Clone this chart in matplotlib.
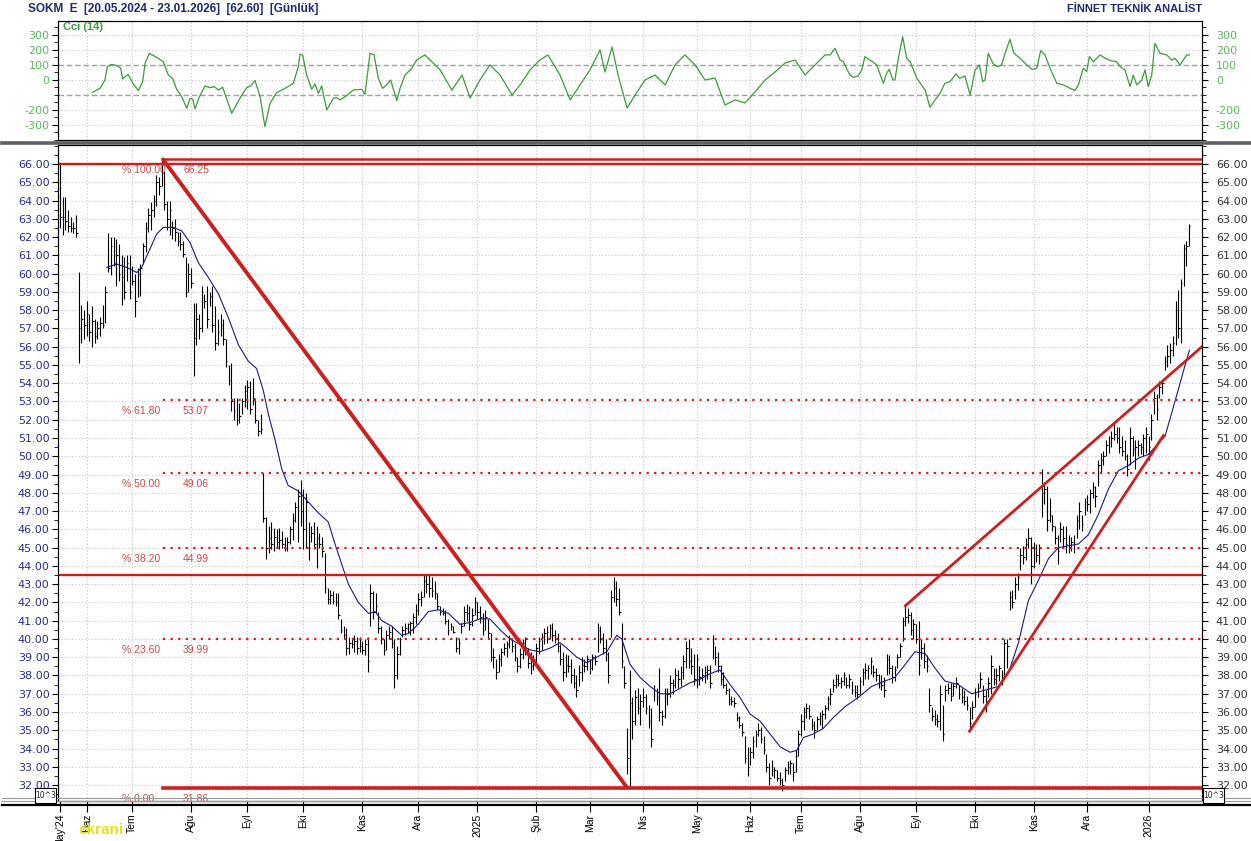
import numpy as np
import matplotlib.pyplot as plt
from matplotlib.lines import Line2D
from matplotlib.patches import Rectangle

plt.rcParams['font.family'] = ['DejaVu Sans']

# ---- günlük bar verileri (bar index 0 = 20.05.2024) ----
highs = [
    66.0, 64.2, 64.2, 63.5, 63.1, 62.8, 63.2, 60.1, 58.3, 58.0,
    58.5, 57.8, 58.2, 57.5, 57.4, 57.6, 58.3, 59.3, 62.2, 62.0,
    62.0, 61.9, 61.6, 61.0, 60.9, 61.0, 61.0, 60.4, 60.0, 60.3,
    60.5, 61.7, 62.8, 63.6, 63.9, 64.3, 65.4, 65.3, 66.3, 65.6,
    64.0, 64.0, 62.9, 63.0, 62.3, 62.3, 61.8, 60.9, 60.6, 60.3,
    58.4, 58.4, 57.8, 59.3, 58.9, 59.3, 59.0, 59.3, 58.2, 57.5,
    57.8, 57.5, 56.4, 55.0, 55.1, 53.2, 53.2, 52.9, 53.2, 53.9,
    54.2, 54.1, 54.3, 53.2, 52.0, 52.3, 49.1, 46.7, 46.2, 46.4,
    46.1, 46.0, 46.1, 45.9, 45.6, 45.6, 46.2, 46.9, 47.5, 48.2,
    48.7, 48.2, 48.0, 46.4, 46.2, 46.4, 46.2, 45.8, 45.6, 44.7,
    42.8, 42.7, 42.6, 42.5, 42.5, 41.1, 40.7, 40.6, 40.1, 40.0,
    40.2, 40.1, 40.1, 39.9, 40.0, 40.1, 43.0, 42.6, 42.5, 41.5,
    40.7, 40.0, 40.5, 40.7, 40.7, 40.0, 39.6, 40.1, 40.7, 40.9,
    40.9, 41.0, 41.4, 41.9, 42.5, 42.6, 43.5, 43.5, 43.5, 43.4,
    43.2, 42.5, 41.8, 41.7, 41.6, 41.1, 40.9, 40.7, 40.1, 40.0,
    40.9, 41.8, 41.9, 41.8, 41.7, 42.3, 42.0, 41.8, 41.4, 41.6,
    41.1, 40.3, 39.5, 38.9, 39.2, 39.5, 39.8, 39.9, 40.2, 40.0,
    39.8, 39.0, 39.5, 40.0, 40.1, 39.5, 39.3, 39.1, 39.8, 40.1,
    40.3, 40.6, 40.7, 40.8, 40.9, 40.5, 40.3, 39.7, 39.3, 39.2,
    39.1, 38.9, 38.4, 38.0, 38.6, 39.0, 38.9, 39.1, 38.9, 39.2,
    39.1, 40.9, 40.7, 40.3, 40.0, 39.3, 42.7, 43.4, 43.2, 42.8,
    40.9, 38.5, 35.1, 38.3, 36.8, 37.2, 37.3, 37.0, 37.3, 37.0,
    36.4, 36.2, 37.5, 37.3, 38.4, 36.1, 37.3, 37.3, 38.0, 37.8,
    38.4, 38.3, 38.5, 39.1, 39.9, 40.0, 39.5, 39.2, 39.2, 38.5,
    38.4, 38.5, 38.6, 38.6, 40.2, 39.6, 39.3, 38.6, 38.2, 37.6,
    37.3, 36.9, 36.8, 36.0, 35.8, 35.4, 34.7, 34.1, 34.1, 34.7,
    35.0, 35.4, 35.2, 34.7, 33.7, 33.2, 33.4, 33.0, 32.8, 32.7,
    32.4, 33.0, 33.3, 33.4, 33.2, 33.9, 35.0, 35.9, 36.3, 36.5,
    36.4, 35.7, 35.5, 35.8, 36.0, 36.1, 36.4, 36.9, 37.3, 37.8,
    38.1, 38.1, 37.9, 38.2, 37.9, 38.1, 37.7, 37.5, 37.5, 37.9,
    38.4, 38.7, 38.6, 39.0, 38.6, 38.4, 38.1, 38.0, 37.9, 39.2,
    39.1, 38.6, 38.5, 39.2, 39.8, 41.2, 41.8, 41.7, 41.5, 41.1,
    40.8, 41.0, 40.0, 39.8, 39.1, 37.3, 36.3, 36.1, 35.9, 37.5,
    36.4, 37.5, 37.6, 37.6, 37.6, 37.9, 37.5, 37.3, 37.2, 36.9,
    36.3, 36.6, 37.3, 37.6, 38.2, 37.5, 37.2, 37.9, 39.1, 38.4,
    38.4, 38.6, 38.3, 40.0, 40.0, 42.6, 42.7, 43.4, 43.6, 45.0,
    45.1, 45.5, 46.1, 45.6, 45.3, 45.2, 45.2, 49.3, 48.6, 48.4,
    47.7, 46.8, 46.2, 45.7, 46.4, 46.2, 46.2, 45.7, 45.6, 45.7,
    46.8, 47.5, 46.8, 47.7, 47.9, 48.2, 48.6, 48.4, 49.8, 50.2,
    50.3, 50.9, 51.1, 51.4, 51.8, 51.6, 51.6, 51.1, 50.9, 50.1,
    51.6, 51.1, 50.9, 50.9, 50.7, 51.2, 51.6, 51.1, 52.3, 53.6,
    53.4, 54.1, 54.2, 55.5, 56.1, 56.2, 56.6, 58.5, 59.1, 59.7,
    61.6, 61.8, 62.7,
]
lows = [
    62.5, 62.1, 62.4, 62.3, 62.3, 62.2, 62.0, 55.1, 56.2, 56.4,
    56.6, 56.3, 56.0, 56.2, 56.4, 56.6, 57.0, 57.3, 60.1, 59.9,
    60.4, 59.3, 59.6, 58.3, 58.6, 59.6, 58.6, 59.4, 57.6, 58.7,
    58.8, 60.5, 61.2, 62.3, 62.4, 63.1, 63.7, 64.3, 64.8, 63.5,
    62.4, 62.1, 61.9, 61.8, 61.5, 61.3, 60.9, 58.7, 59.0, 59.2,
    54.4, 56.1, 56.4, 56.8, 58.1, 57.0, 58.2, 56.8, 55.8, 56.1,
    56.6, 56.1, 54.9, 53.9, 52.5, 52.0, 51.7, 51.8, 52.3, 52.7,
    52.6, 52.3, 52.8, 51.8, 51.1, 51.2, 46.4, 44.4, 44.7, 44.9,
    44.8, 45.0, 44.9, 45.0, 44.8, 44.8, 45.2, 45.4, 46.4, 45.3,
    46.2, 44.9, 45.0, 44.3, 45.3, 44.9, 43.9, 45.0, 44.5, 42.5,
    41.9, 41.9, 41.9, 41.8, 41.1, 40.3, 40.0, 39.1, 39.2, 39.5,
    39.3, 39.2, 39.3, 39.2, 39.1, 38.2, 40.7, 41.1, 41.4, 40.3,
    39.7, 39.1, 39.4, 40.0, 39.5, 37.3, 37.8, 39.1, 40.1, 40.2,
    40.3, 40.2, 40.3, 40.8, 41.3, 41.8, 42.3, 42.5, 42.3, 42.3,
    42.2, 41.6, 41.3, 41.3, 40.8, 40.2, 40.5, 40.3, 39.3, 39.2,
    40.3, 40.7, 41.0, 40.5, 40.7, 41.3, 41.1, 40.9, 40.2, 40.5,
    40.0, 38.8, 38.4, 37.8, 38.2, 38.5, 39.1, 39.0, 39.5, 39.3,
    38.8, 38.2, 38.4, 38.9, 39.1, 38.4, 38.1, 38.3, 38.6, 39.2,
    39.4, 39.7, 39.8, 40.0, 39.9, 39.8, 39.3, 38.6, 37.7, 37.9,
    38.2, 37.6, 37.3, 36.8, 37.4, 37.7, 38.2, 38.3, 38.1, 38.3,
    38.6, 39.3, 39.8, 39.2, 38.8, 37.6, 40.1, 42.0, 41.8, 41.3,
    38.4, 37.3, 32.6, 31.9, 34.5, 35.3, 35.9, 35.3, 36.3, 35.9,
    35.1, 34.1, 36.6, 36.4, 35.5, 35.3, 35.7, 36.4, 36.8, 37.0,
    37.3, 37.3, 37.4, 37.8, 38.4, 38.4, 38.1, 37.5, 37.3, 37.5,
    37.7, 37.6, 37.8, 37.3, 38.9, 38.6, 38.2, 37.5, 37.3, 37.0,
    36.4, 36.4, 36.3, 35.5, 35.1, 34.7, 33.2, 32.5, 33.1, 33.5,
    34.1, 34.7, 34.3, 33.7, 32.7, 32.0, 32.5, 32.4, 32.2, 32.0,
    31.7, 32.2, 32.6, 32.6, 32.2, 32.7, 33.6, 34.7, 35.0, 35.7,
    35.6, 35.0, 34.6, 35.0, 35.3, 35.1, 35.6, 36.1, 36.4, 37.1,
    37.3, 37.4, 37.3, 37.5, 37.3, 37.3, 37.0, 36.8, 36.7, 37.0,
    37.5, 37.8, 37.8, 38.1, 37.9, 37.7, 37.3, 37.2, 36.8, 38.0,
    38.1, 37.6, 37.7, 38.4, 39.0, 39.9, 40.7, 40.9, 40.2, 40.0,
    39.8, 38.0, 38.9, 38.4, 38.2, 36.0, 35.5, 35.3, 35.2, 35.0,
    34.4, 36.6, 37.0, 36.6, 36.9, 37.3, 36.7, 36.5, 36.4, 36.1,
    35.0, 35.6, 36.3, 36.8, 37.3, 36.5, 36.0, 36.8, 37.0, 37.5,
    37.5, 37.7, 37.5, 38.0, 38.4, 41.6, 41.7, 42.2, 42.7, 43.8,
    44.1, 44.3, 45.0, 43.0, 43.9, 44.2, 44.1, 46.7, 47.4, 45.9,
    46.4, 45.9, 45.2, 44.1, 45.3, 45.0, 44.7, 44.7, 44.8, 44.7,
    45.5, 46.0, 45.9, 46.8, 47.0, 46.9, 47.7, 47.2, 48.4, 49.1,
    49.5, 50.0, 50.2, 50.5, 50.9, 50.7, 50.2, 50.0, 49.8, 48.9,
    49.5, 50.0, 49.3, 50.0, 50.1, 50.0, 50.2, 49.8, 50.9, 52.3,
    52.0, 53.2, 53.4, 54.7, 54.9, 55.1, 55.5, 56.1, 56.5, 56.2,
    59.3, 60.4, 61.5,
]
closes = [
    63.1, 63.1, 62.9, 62.6, 62.5, 62.5, 62.2, 57.0, 57.5, 57.2,
    57.8, 56.8, 57.4, 56.6, 57.0, 57.3, 57.2, 59.0, 60.3, 61.5,
    60.6, 61.0, 60.0, 59.8, 59.0, 60.6, 59.0, 59.6, 58.5, 60.0,
    60.3, 61.5, 62.5, 63.2, 63.5, 64.0, 65.0, 64.8, 65.5, 63.8,
    63.0, 63.5, 62.5, 62.3, 61.8, 61.6, 61.1, 59.0, 60.0, 59.5,
    56.5, 57.5, 57.0, 59.0, 58.5, 57.5, 58.8, 57.2, 56.2, 56.8,
    57.2, 56.4, 55.2, 54.2, 53.0, 52.5, 52.0, 52.2, 53.0, 53.6,
    53.8, 52.6, 53.2, 52.0, 51.4, 51.5, 46.6, 45.0, 45.5, 45.2,
    45.6, 45.3, 45.4, 45.2, 45.0, 45.3, 46.0, 46.5, 47.2, 47.8,
    47.0, 46.0, 47.5, 45.0, 45.8, 45.2, 45.5, 45.2, 44.8, 42.8,
    42.2, 42.4, 42.1, 42.0, 41.3, 40.5, 40.2, 39.5, 39.8, 39.7,
    39.9, 39.5, 39.6, 39.4, 39.7, 38.8, 42.5, 41.5, 41.8, 40.6,
    40.0, 39.4, 40.2, 40.4, 39.8, 38.0, 39.2, 40.0, 40.5, 40.6,
    40.8, 40.9, 41.2, 41.6, 42.2, 42.3, 43.2, 43.0, 42.8, 42.6,
    42.5, 41.8, 41.5, 41.4, 41.0, 40.5, 40.7, 40.4, 39.5, 39.8,
    40.7, 41.5, 41.4, 40.8, 41.3, 42.0, 41.5, 41.2, 40.5, 41.2,
    40.3, 39.0, 39.0, 38.2, 38.9, 39.3, 39.5, 39.7, 40.0, 39.6,
    39.0, 38.5, 39.2, 39.8, 39.5, 38.7, 38.5, 38.9, 39.5, 39.9,
    40.1, 40.3, 40.4, 40.6, 40.2, 40.0, 39.6, 38.9, 38.2, 38.6,
    38.5, 38.0, 37.6, 37.2, 38.2, 38.6, 38.5, 38.9, 38.4, 39.0,
    38.8, 40.5, 40.0, 39.5, 39.2, 38.0, 42.3, 42.8, 42.2, 41.5,
    38.8, 37.6, 33.5, 36.5, 35.5, 36.8, 36.2, 36.6, 36.8, 36.2,
    35.5, 34.5, 37.2, 36.8, 36.0, 35.8, 37.0, 37.0, 37.6, 37.5,
    38.0, 37.8, 38.2, 38.8, 39.5, 38.8, 38.5, 37.8, 38.9, 37.9,
    38.0, 38.2, 38.3, 37.6, 39.8, 39.0, 38.5, 37.8, 37.5, 37.2,
    36.7, 36.6, 36.5, 35.7, 35.3, 34.9, 33.5, 33.0, 33.8, 34.4,
    34.8, 35.0, 34.5, 33.9, 33.0, 32.4, 33.0, 32.8, 32.4, 32.3,
    32.0, 32.8, 33.0, 33.2, 32.7, 33.6, 34.8, 35.5, 36.0, 36.2,
    35.8, 35.3, 35.0, 35.6, 35.8, 35.9, 36.2, 36.7, 37.0, 37.5,
    37.8, 37.6, 37.7, 38.0, 37.5, 37.8, 37.2, 37.1, 37.0, 37.7,
    38.2, 38.3, 38.4, 38.8, 38.2, 38.0, 37.6, 37.5, 37.2, 38.9,
    38.4, 37.9, 38.3, 39.0, 39.6, 41.0, 41.2, 41.3, 40.5, 40.8,
    40.0, 38.6, 39.5, 38.8, 38.5, 36.4, 35.8, 35.6, 35.5, 37.0,
    34.8, 37.2, 37.3, 36.9, 37.4, 37.6, 37.0, 36.8, 36.6, 36.4,
    35.4, 36.3, 37.0, 37.3, 37.8, 36.9, 36.6, 37.6, 38.5, 37.8,
    38.0, 38.4, 38.0, 39.8, 39.6, 42.3, 42.0, 43.0, 43.4, 44.6,
    44.5, 45.2, 45.5, 44.0, 45.0, 44.6, 45.0, 48.0, 48.2, 46.5,
    46.8, 46.2, 45.5, 44.8, 46.0, 45.5, 45.2, 45.0, 45.3, 45.2,
    46.5, 47.0, 46.3, 47.5, 47.4, 48.0, 48.3, 47.8, 49.5, 49.8,
    50.0, 50.6, 50.8, 51.0, 51.2, 51.0, 50.5, 50.3, 50.0, 49.3,
    51.0, 50.4, 50.5, 50.6, 50.5, 51.0, 51.2, 50.5, 52.0, 53.2,
    52.6, 53.8, 54.0, 55.2, 55.5, 55.8, 56.2, 58.0, 57.0, 59.5,
    61.4, 61.5, 62.6,
]

# hareketli ortalama (mavi çizgi), grafikten okunan noktalar
ma_x = [
    17.5, 21.2, 24.9, 28.7, 30.5, 33.6, 36.1, 38.6, 42.4, 45.5,
    48.6, 51.7, 55.4, 59.2, 62.9, 66.7, 70.4, 73.5, 76.0, 77.9,
    80.4, 82.9, 85.3, 89.1, 92.8, 96.6, 100.3, 102.8, 105.3, 107.8,
    111.5, 115.3, 117.8, 120.3, 124.0, 127.7, 130.2, 133.9, 137.7, 141.4,
    145.2, 149.5, 153.3, 157.0, 160.7, 164.5, 168.2, 172.0, 175.7, 179.4,
    183.2, 186.9, 189.4, 193.2, 196.9, 200.6, 204.4, 208.1, 210.0, 213.1,
    216.8, 220.6, 224.3, 228.0, 231.8, 235.5, 239.3, 243.0, 246.7, 250.5,
    254.2, 257.9, 261.7, 265.4, 269.2, 272.9, 275.4, 277.9, 281.6, 285.3,
    289.1, 293.5, 298.4, 303.4, 308.4, 312.1, 315.9, 319.6, 323.4, 327.1,
    330.8, 335.8, 340.8, 345.8, 350.8, 354.5, 358.3, 362.0, 365.7, 369.5,
    373.2, 377.0, 380.7, 384.4, 388.1, 391.9, 395.6, 399.4, 403.1, 406.8,
    410.6, 413.1, 416.2, 418.7, 420.6, 422.2,
]
ma_v = [
    60.34, 60.52, 60.34, 60.06, 60.34, 61.34, 62.16, 62.53, 62.53, 62.34,
    61.7, 60.6, 59.8, 58.9, 57.6, 56.1, 55.2, 54.8, 53.6, 52.3,
    50.9, 49.3, 48.4, 48.1, 47.5, 46.9, 46.4, 45.2, 44.1, 43.0,
    42.0, 41.4, 41.5, 41.0, 40.7, 40.2, 40.3, 40.8, 41.5, 41.6,
    41.4, 40.8, 40.9, 41.1, 41.1, 40.5, 40.0, 39.7, 39.4, 39.3,
    39.5, 39.8, 39.5, 39.0, 38.7, 39.0, 39.3, 40.2, 40.0, 38.6,
    37.9, 37.4, 37.0, 37.0, 37.3, 37.6, 37.8, 38.1, 38.3, 37.5,
    36.8, 35.9, 35.5, 34.8, 34.1, 33.8, 33.9, 34.6, 34.8, 35.1,
    35.7, 36.3, 36.8, 37.4, 37.7, 37.9, 38.6, 39.3, 39.2, 38.4,
    37.7, 37.5, 37.0, 37.2, 37.4, 38.1, 39.8, 42.1, 43.2, 44.4,
    45.0, 45.1, 45.2, 45.7, 46.8, 48.2, 49.2, 49.5, 49.9, 50.1,
    50.7, 51.1, 52.7, 54.0, 55.0, 55.8,
]

# CCI (14), grafikten okunan noktalar
cci_x = [
    12.2, 15.0, 16.8, 17.7, 19.3, 21.2, 22.7, 23.4, 24.3, 25.5,
    27.4, 29.3, 30.9, 31.8, 33.4, 36.1, 38.6, 40.5, 42.1, 43.6,
    45.5, 47.4, 48.6, 49.6, 50.5, 52.1, 54.2, 56.1, 57.6, 59.2,
    60.8, 64.2, 67.6, 69.8, 71.3, 72.9, 74.8, 76.6, 78.5, 81.0,
    84.1, 87.2, 89.1, 89.7, 90.7, 92.2, 94.1, 95.3, 96.6, 97.8,
    99.7, 102.2, 103.4, 104.7, 107.2, 109.6, 112.8, 114.0, 115.9, 117.4,
    119.0, 120.6, 122.1, 123.6, 125.9, 127.1, 129.0, 131.5, 133.3,
    136.4, 142.1, 146.5, 150.3, 153.3, 157.0, 160.7, 164.5, 169.0, 172.0,
    175.7, 179.4, 182.4, 186.9, 190.7, 194.4, 198.1, 201.9, 203.7, 206.4,
    208.6, 212.0, 215.0, 218.7, 222.4, 226.2, 229.9, 233.6, 237.4, 241.1,
    244.9, 248.6, 252.3, 256.1, 259.8, 263.6, 267.3, 271.0, 274.8, 278.5,
    282.2, 286.0,
    287.9, 289.7, 291.6, 292.8, 295.3, 296.6, 298.4, 299.7, 300.9, 302.8,
    304.0, 305.3, 307.8, 309.0, 310.0, 311.3, 312.1, 313.4, 315.0, 316.5,
    317.8, 320.3, 323.4, 325.2, 327.1, 329.0, 330.8, 332.7, 335.0, 336.4,
    338.3, 340.2, 342.1, 343.7, 344.9, 345.8, 347.0, 348.7, 350.2, 352.0,
    353.3, 355.1, 356.6, 358.9, 361.4, 363.3, 365.1, 366.6, 368.2, 370.1,
    372.6, 375.1, 377.6, 379.4, 380.7, 382.5, 383.8, 384.8, 386.3, 387.5,
    388.8, 390.7, 393.1, 395.0, 396.3, 398.1, 400.0, 401.2, 402.5, 404.4,
    405.6, 406.8, 408.1, 409.3, 411.2, 413.7, 415.6, 416.8, 418.7, 419.9,
    421.2, 422.2,
]
cci_v = [
    -82, -55, 0, 89, 104, 96, 78, 7, 22, 36,
    -27, -71, -11, 111, 178, 151, 122, 33, 11, -62,
    -111, -189, -122, -127, -193, -111, -40, -51, -44, -67,
    -49, -222, -111, -51, -40, -4, -111, -311, -156, -84,
    -56, -22, 89, 171, 167, 33, -62, -27, -89, -40,
    -200, -122, -118, -133, -104, -67, -62, -96, 178, 167,
    11, -56, -33, 0, -138, -56, 33, 78, 133,
    167, 67, -67, 33, -120, 0, 100, 33, -100, -33,
    67, 133, 167, 33, -133, -33, 67, 200, 53, 220,
    33, -187, -100, 0, 33, -33, 100, 167, 100, 0,
    13, -167, -133, -153, -80, 0, 53, 113, 133, 33,
    100, 167,
    167, 211, 133, 122, 33, 18, 27, 67, 156, 133,
    118, 100, -22, 44, 71, 0, 0, 144, 289, 144,
    122, 11, -67, -182, -133, -89, -22, -11, 40, 11,
    27, -100, 67, 100, -11, 0, 178, 111, 89, 100,
    178, 271, 178, 144, 100, 71, 78, 195, 167, 78,
    -22, -33, -56, -71, -33, 78, 56, 156, 122, 144,
    167, 144, 127, 122, 89, 67, -44, 33, -33, 0,
    67, -44, 33, 244, 178, 167, 133, 144, 100, 133,
    167, 167,
]

# ay başlangıçları (bar index) ve etiketleri
month_pos = [0, 10, 27, 49, 70, 91, 113, 134, 156, 178, 198,
             218, 238, 258, 277, 299, 320, 342, 364, 384, 407]
month_lbl = ["May'24", "Haz", "Tem", "Ağu", "Eyl", "Eki", "Kas", "Ara", "2025", "Şub", "Mar",
             "Nis", "May", "Haz", "Tem", "Ağu", "Eyl", "Eki", "Kas", "Ara", "2026"]

# fibonacci seviyeleri
fib_pct = [100.0, 61.8, 50.0, 38.2, 23.6, 0.0]
fib_val = [66.25, 53.07, 49.06, 44.99, 39.99, 31.86]
fib_start = 38.5

# yatay destek/direnç çizgileri
level_lines = [66.0, 43.5]

# trend çizgileri: (bar index listesi, fiyat listesi)
down_trend = ([38.5, 212.0], [66.25, 31.86])
upper_channel = ([316.0, 426.9], [41.82, 56.0])
lower_channel = ([340.0, 412.5], [34.95, 51.14])

assert len(highs) == len(lows) == len(closes)
assert len(ma_x) == len(ma_v) and len(cci_x) == len(cci_v)

RED = '#cc2020'
GRID = '#c4c4c4'
W, H = 1251, 841
XMIN, XMAX = -0.75, 426.9

fig = plt.figure(figsize=(W / 100, H / 100), dpi=100)


def add_axes_px(left, top, right, bottom):
    return fig.add_axes([left / W, 1 - bottom / H, (right - left) / W, (bottom - top) / H])


def fig_hline(y, x0, x1, color, lw):
    fig.add_artist(Line2D([x0 / W, x1 / W], [1 - y / H, 1 - y / H], transform=fig.transFigure,
                          color=color, lw=lw, zorder=10))


# ---------------- CCI paneli ----------------
ax_cci = add_axes_px(58, 21, 1202, 140)
ax_cci.set_xlim(XMIN, XMAX)
ax_cci.set_ylim(-400, 393)
for v in [300, 200, 0, -200, -300]:
    ax_cci.axhline(v, color=GRID, lw=0.8, ls=(0, (1, 2)), zorder=0)
for v in [100, -100]:
    ax_cci.axhline(v, color='#a0a0a0', lw=1.0, ls=(0, (4, 2)), zorder=0)
for p in month_pos[1:]:
    ax_cci.axvline(p, color=GRID, lw=0.8, ls=(0, (1, 2)), zorder=0)
ax_cci.plot(cci_x, cci_v, color='#3c9a3c', lw=0.9, zorder=3)
ax_cci.text(1.3, 355, 'Cci (14)', color='#3c9a3c', fontsize=8, fontweight='bold',
            family=['Liberation Sans', 'DejaVu Sans'], va='center', ha='left')

cci_ticks = [300, 200, 100, 0, -200, -300]
ax_cci.set_yticks(cci_ticks)
ax_cci.set_yticklabels([str(t) for t in cci_ticks])
ax_cci.set_yticks(np.arange(-400, 400, 50), minor=True)
ax_cci.tick_params(axis='y', which='major', length=4, pad=2, labelsize=8, labelcolor='#5cb85c')
ax_cci.tick_params(axis='y', which='minor', length=3)
ax_cci.set_xticks(month_pos)
ax_cci.tick_params(axis='x', length=0, labelbottom=False)
ax_cci_r = ax_cci.twinx()
ax_cci_r.set_ylim(ax_cci.get_ylim())
ax_cci_r.set_yticks(cci_ticks)
ax_cci_r.set_yticklabels([str(t) for t in cci_ticks])
ax_cci_r.set_yticks(np.arange(-400, 400, 50), minor=True)
ax_cci_r.tick_params(axis='y', which='major', length=4, pad=6, labelsize=8, labelcolor='#5cb85c')
ax_cci_r.tick_params(axis='y', which='minor', length=3)

# ---------------- fiyat paneli ----------------
ax = add_axes_px(58, 145, 1202, 801)
ax.set_xlim(XMIN, XMAX)
ax.set_ylim(31.13, 67.04)

for v in np.arange(32, 67):
    ax.axhline(v, color=GRID, lw=0.8, ls=(0, (1, 2)), zorder=0)
for p in month_pos[1:]:
    ax.axvline(p, color=GRID, lw=0.8, ls=(0, (1, 2)), zorder=0)

# barlar
idx = np.arange(len(highs))
ax.vlines(idx, lows, highs, colors='black', lw=0.8, zorder=2)
ax.hlines(closes, idx, idx + 0.6, colors='black', lw=0.8, zorder=2)

# hareketli ortalama
ax.plot(ma_x, ma_v, color='#1a1a80', lw=0.8, zorder=3)

# kırmızı çizgiler
for lv in level_lines:
    ax.axhline(lv, color=RED, lw=1.7, zorder=4)
for pct, val in zip(fib_pct, fib_val):
    if pct in (100.0, 0.0):
        ax.plot([fib_start, XMAX], [val, val], color=RED, lw=1.8 if pct == 100.0 else 2.6, zorder=4)
    else:
        ax.plot([fib_start, XMAX], [val, val], color=RED, lw=1.6, ls=(0, (1, 2.4)), zorder=4)
    ax.text(23.2, val - 0.6, f'% {pct:.2f}', color='#c84848', fontsize=7.5,
            family=['Liberation Sans', 'DejaVu Sans'], va='center', ha='left', clip_on=True, zorder=5)
    ax.text(46.0, val - 0.6, f'{val:.2f}', color='#c84848', fontsize=7.5,
            family=['Liberation Sans', 'DejaVu Sans'], va='center', ha='left', clip_on=True, zorder=5)

ax.plot(*down_trend, color=RED, lw=2.8, zorder=4, solid_capstyle='round')
ax.plot(*upper_channel, color=RED, lw=2.0, zorder=4)
ax.plot(*lower_channel, color=RED, lw=2.0, zorder=4)

# eksenler
price_ticks = np.arange(32, 67)
ax.set_yticks(price_ticks)
ax.set_yticklabels([f'{t:.2f}' for t in price_ticks])
ax.set_yticks(np.arange(31.5, 67.5, 0.5), minor=True)
ax.tick_params(axis='y', which='major', length=4, pad=2, labelsize=8, labelcolor='#2b2b8f')
ax.tick_params(axis='y', which='minor', length=3)
ax.set_xticks(month_pos)
ax.set_xticklabels(month_lbl, rotation=90, fontsize=7.5, family=['Liberation Sans', 'DejaVu Sans'])
ax.tick_params(axis='x', length=8, pad=1, direction='out')
ax_r = ax.twinx()
ax_r.set_ylim(ax.get_ylim())
ax_r.set_yticks(price_ticks)
ax_r.set_yticklabels([f'{t:.2f}' for t in price_ticks])
ax_r.set_yticks(np.arange(31.5, 67.5, 0.5), minor=True)
ax_r.tick_params(axis='y', which='major', length=4, pad=6, labelsize=8, labelcolor='#333333')
ax_r.tick_params(axis='y', which='minor', length=3)

# panel ayraçları
fig_hline(142.5, 2, W, '#606060', 2.6)
fig_hline(797.5, 2, W, '#9a9a9a', 0.8)
fig_hline(800.5, 2, W, '#9a9a9a', 0.8)
fig_hline(805, 2, W, 'black', 1.6)

# 10^3 kutuları
for x0 in (35, 1203):
    fig.add_artist(Rectangle((x0 / W, 1 - 803 / H), 21 / W, 15 / H, transform=fig.transFigure,
                             facecolor='white', edgecolor='black', lw=0.8, zorder=11))
    fig.text((x0 + 10.5) / W, 1 - 795 / H, '10^3', fontsize=5.5, ha='center', va='center',
             color='#222222', zorder=12)

# başlıklar
fig.text(28 / W, 1 - 9 / H, 'SOKM  E  [20.05.2024 - 23.01.2026]  [62.60]  [Günlük]',
         fontsize=8.5, fontweight='bold', color='#1f2a6e', family=['Liberation Sans', 'DejaVu Sans'],
         ha='left', va='center')
fig.text(1202 / W, 1 - 9 / H, 'FİNNET TEKNİK ANALİST', fontsize=8, fontweight='bold',
         color='#1f2a6e', family=['Liberation Sans', 'DejaVu Sans'], ha='right', va='center')
fig.text(78 / W, 1 - 830 / H, 'ekrani', fontsize=11, fontweight='bold', color='#e8df1c',
         family=['Liberation Sans', 'DejaVu Sans'], ha='left', va='center')

fig.savefig('out.png', dpi=100)
